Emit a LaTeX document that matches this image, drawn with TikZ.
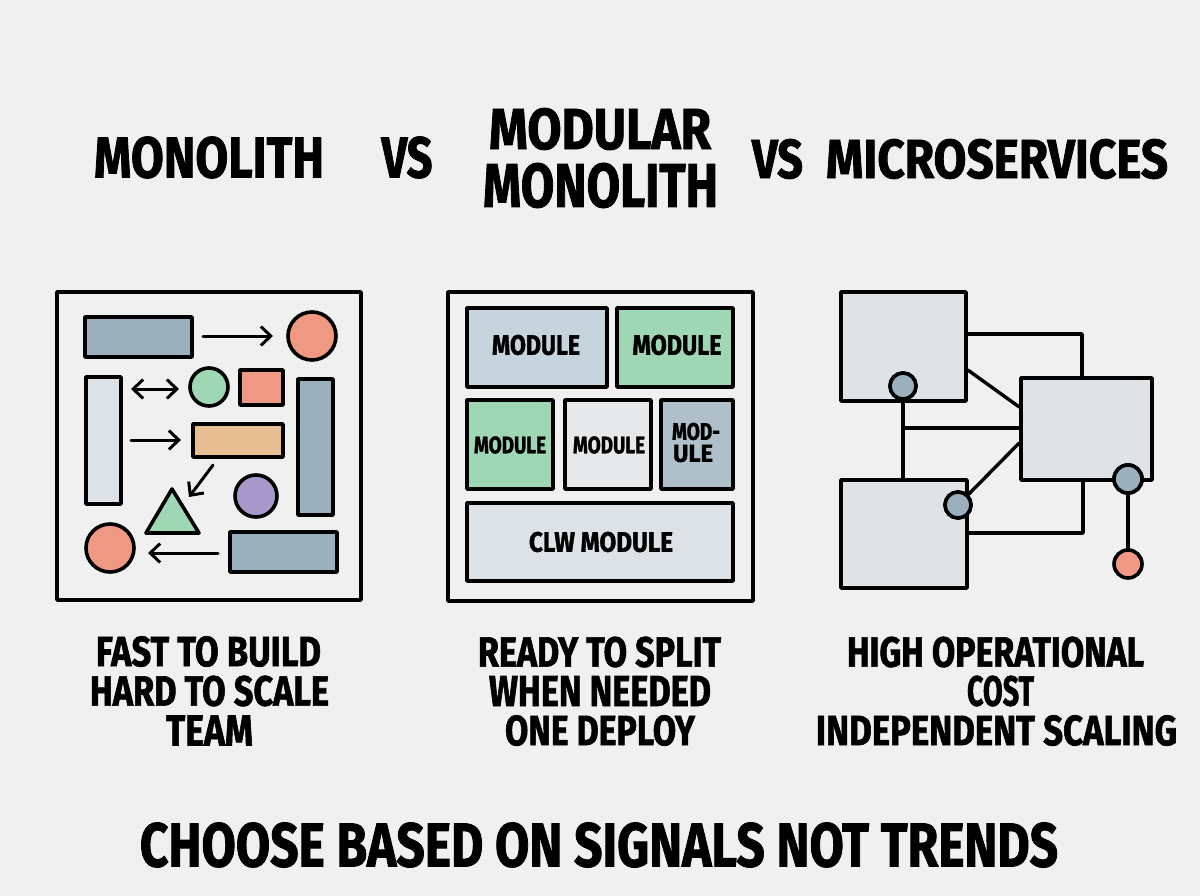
\documentclass[tikz,border=0pt]{standalone}
\usepackage{fontspec}
\setmainfont{Fira Sans}[BoldFont=* Bold,BoldFeatures={FakeBold=1.6}]
\usepackage{graphicx}
\usetikzlibrary{arrows.meta,calc}
\definecolor{bgc}{HTML}{F0F0F0}
\definecolor{bluegray}{HTML}{9BB0BD}
\definecolor{salmon}{HTML}{EF9985}
\definecolor{mint}{HTML}{9FD6B3}
\definecolor{lightgray}{HTML}{DDE2E6}
\definecolor{orangey}{HTML}{E8BF93}
\definecolor{purp}{HTML}{A897CA}
\definecolor{paleblue}{HTML}{C6D4DD}
\definecolor{modgray}{HTML}{E6E8E9}
\definecolor{svcgray}{HTML}{E0E3E5}
\newcommand\fitt[3]{\resizebox{#1pt}{#2pt}{\bfseries #3}}
\tikzset{
  ol/.style={draw=black,line width=3.6pt,line join=round},
  shp/.style={ol,rectangle,inner sep=0pt},
  rnd/.style={ol,circle,inner sep=0pt,minimum size=#1},
  arr/.style={line width=3pt,line cap=round,-{Straight Barb[length=10pt,width=19pt,line width=3pt]}},
  darr/.style={line width=3pt,line cap=round,{Straight Barb[length=10pt,width=19pt,line width=3pt]}-{Straight Barb[length=10pt,width=19pt,line width=3pt]}},
  txt/.style={inner sep=0pt,anchor=center},
  wire/.style={line width=3.4pt,line join=round,line cap=round}
}
\begin{document}
\begin{tikzpicture}[x=1pt,y=-1pt]
\fill[bgc] (0,0) rectangle (1200,896);
\useasboundingbox (0,0) rectangle (1200,896);
% titles
\node[txt] (t1) at (209,157.5) {\fitt{230}{41}{MONOLITH}};
\node[txt] (t2) at (407,157.5) {\fitt{51}{41}{VS}};
\node[txt] (t3) at (600,129) {\fitt{222}{41}{MODULAR}};
\node[txt] (t4) at (600.5,185.5) {\fitt{235}{44}{MONOLITH}};
\node[txt] (t5) at (777.5,159) {\fitt{51}{39}{VS}};
\node[txt] (t6) at (997,159) {\fitt{342}{39}{MICROSERVICES}};
% panel 1
\node[shp,minimum width=304pt,minimum height=308pt] (f1) at (209,446) {};
\node[shp,fill=bluegray,minimum width=107pt,minimum height=40pt] (r1) at (138.5,337) {};
\node[rnd=48pt,fill=salmon] (c1) at (312,336) {};
\node[shp,fill=lightgray,minimum width=35pt,minimum height=127pt] (v1) at (103.5,440.5) {};
\node[rnd=38pt,fill=mint] (c2) at (209,387) {};
\node[shp,fill=salmon,minimum width=43pt,minimum height=35pt] (sq) at (261.5,387.5) {};
\node[shp,fill=bluegray,minimum width=35pt,minimum height=136pt] (v2) at (315.5,447) {};
\node[shp,fill=orangey,minimum width=90pt,minimum height=33pt] (orr) at (238,440.5) {};
\node[rnd=42pt,fill=purp] (c4) at (256,496) {};
\coordinate (ta) at (172,489);
\coordinate (tb) at (146,533);
\coordinate (tc) at (199,533);
\draw[ol,fill=mint] (ta) -- (tb) -- (tc) -- cycle;
\node[rnd=48pt,fill=salmon] (c3) at (110,548) {};
\node[shp,fill=bluegray,minimum width=107pt,minimum height=40pt] (r2) at (283.5,552) {};
\coordinate (a1s) at (203,336); \coordinate (a1e) at (273,336);
\draw[arr] (a1s) -- (a1e);
\coordinate (a2s) at (131,389); \coordinate (a2e) at (179,389);
\draw[darr] (a2s) -- (a2e);
\coordinate (a3s) at (131,440); \coordinate (a3e) at (181,440);
\draw[arr] (a3s) -- (a3e);
\coordinate (a4s) at (213,465); \coordinate (a4e) at (189,497);
\draw[arr] (a4s) -- (a4e);
\coordinate (a5s) at (218,553); \coordinate (a5e) at (148,553);
\draw[arr] (a5s) -- (a5e);
% panel 2
\node[shp,minimum width=305pt,minimum height=309pt] (f2) at (600.5,446.5) {};
\node[shp,fill=paleblue,minimum width=140pt,minimum height=79pt] (m1) at (537,347.5) {};
\node[txt] (m1t) at (536,345) {\fitt{88}{20}{MODULE}};
\node[shp,fill=mint,minimum width=116pt,minimum height=79pt] (m2) at (675,347.5) {};
\node[txt] (m2t) at (677,345) {\fitt{89}{20}{MODULE}};
\node[shp,fill=mint,minimum width=86pt,minimum height=89pt] (m3) at (510,444.5) {};
\node[txt] (m3t) at (510,445) {\fitt{72}{17}{MODULE}};
\node[shp,fill=modgray,minimum width=86pt,minimum height=89pt] (m4) at (608,444.5) {};
\node[txt] (m4t) at (609,445) {\fitt{72}{17}{MODULE}};
\node[shp,fill=bluegray!80!white,minimum width=72pt,minimum height=89pt] (m5) at (697,444.5) {};
\node[txt] (m5a) at (696,431.5) {\fitt{48}{17}{MOD-}};
\node[txt] (m5b) at (693,453.5) {\fitt{40}{17}{ULE}};
\node[shp,fill=lightgray,minimum width=266pt,minimum height=78pt] (m6) at (600,542) {};
\node[txt] (m6t) at (601,542) {\fitt{144}{20}{CLW MODULE}};
% panel 3
\node[shp,fill=svcgray,minimum width=125pt,minimum height=109pt] (sA) at (903.5,346.5) {};
\node[shp,fill=svcgray,minimum width=131pt,minimum height=102pt] (sB) at (1086.5,429) {};
\node[shp,fill=svcgray,minimum width=126pt,minimum height=108pt] (sC) at (904,534) {};
\node[rnd=26pt,fill=bluegray] (pa) at (903,386) {};
\node[rnd=26pt,fill=bluegray] (pc) at (958,505) {};
\node[rnd=28pt,fill=bluegray] (pb) at (1128,479) {};
\node[rnd=28pt,fill=salmon] (pr) at (1128,564) {};
\draw[wire] (sA.east |- 0,334) -| (sB.north -| 1082,0);
\draw[wire] (sA.east |- 0,370) -- (sB.west |- 0,407);
\draw[wire] (pa.south) -- (pa |- sC.north);
\draw[wire] (pa |- 0,428) -- (sB.west |- 0,428);
\draw[wire] (pc) -- (sB.west |- 0,443);
\draw[wire] (sB.south -| 1083,0) |- (sC.east |- 0,533);
\draw[wire] (pb.south) -- (pr.north);
% circles on top of wires
\node[rnd=26pt,fill=bluegray] (pa2) at (pa) {};
\node[rnd=26pt,fill=bluegray] (pc2) at (pc) {};
\node[rnd=28pt,fill=bluegray] (pb2) at (pb) {};
% captions
\node[txt] (k1) at (208.5,651.5) {\fitt{225}{30}{FAST TO BUILD}};
\node[txt] (k2) at (209.5,691) {\fitt{239}{30}{HARD TO SCALE}};
\node[txt] (k3) at (209.5,730.5) {\fitt{87}{30}{TEAM}};
\node[txt] (k4) at (599.5,652) {\fitt{243}{30}{READY TO SPLIT}};
\node[txt] (k5) at (600,691) {\fitt{222}{30}{WHEN NEEDED}};
\node[txt] (k6) at (600,730.5) {\fitt{190}{30}{ONE DEPLOY}};
\node[txt] (k7) at (995.5,652) {\fitt{297}{30}{HIGH OPERATIONAL}};
\node[txt] (k8) at (1000.5,691) {\fitt{67}{30}{COST}};
\node[txt] (k9) at (996.5,730.5) {\fitt{361}{30}{INDEPENDENT SCALING}};
\node[txt] (bt) at (599,845) {\fitt{918}{44}{CHOOSE BASED ON SIGNALS NOT TRENDS}};
\end{tikzpicture}
\end{document}
